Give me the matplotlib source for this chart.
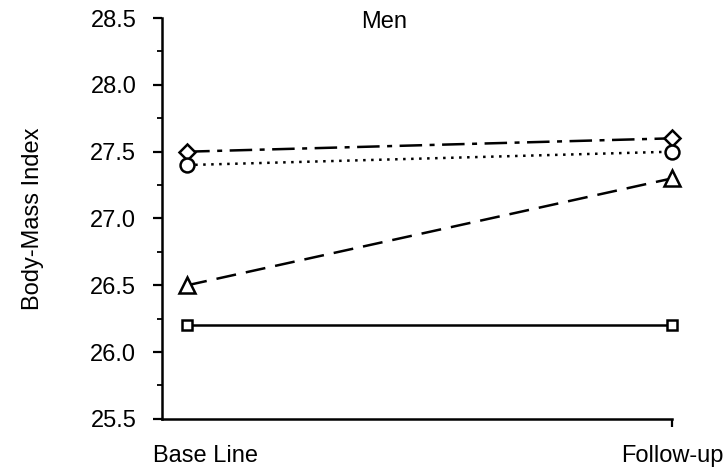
import matplotlib.pyplot as plt
from matplotlib.ticker import MultipleLocator

plt.rcParams['font.family'] = ['Liberation Sans', 'DejaVu Sans']

visits = ['Base Line', 'Follow-up']
diamond = [27.5, 27.6]
circle = [27.4, 27.5]
triangle = [26.5, 27.3]
square = [26.2, 26.2]

fig = plt.figure(figsize=(7.28, 4.76), dpi=100)
ax = fig.add_axes([0.2225, 0.12, 0.7005, 0.842])

x = [0, 1]
kw = dict(color='black', lw=1.8, mfc='white', mec='black', mew=1.8, clip_on=False)
ax.plot(x, diamond, marker='D', ms=8, dashes=(9, 3, 2, 3), **kw)
ax.plot(x, circle, marker='o', ms=10, dashes=(1, 2.2), **kw)
ax.plot(x, triangle, marker='^', ms=11, dashes=(8, 4), **kw)
ax.plot(x, square, marker='s', ms=7, linestyle='-', **kw)

ax.set_xlim(-0.052, 1.0)
ax.set_ylim(25.5, 28.5)
ax.yaxis.set_major_locator(MultipleLocator(0.5))
ax.yaxis.set_minor_locator(MultipleLocator(0.25))
ax.set_yticklabels([f'{v:.1f}' for v in ax.get_yticks()])
ax.tick_params(axis='y', which='major', length=6.5, width=1.6, labelsize=17, pad=12)
ax.tick_params(axis='y', which='minor', length=3.6, width=1.3)

ax.set_xticks([1])
ax.set_xticklabels([''])
ax.tick_params(axis='x', length=5.5, width=1.6, direction='out')
ax.text(0.085, -0.065, visits[0], transform=ax.transAxes, ha='center', va='top', fontsize=17)
ax.text(1.0, -0.065, visits[1], transform=ax.transAxes, ha='center', va='top', fontsize=17)

for s in ['top', 'right']:
    ax.spines[s].set_visible(False)
for s in ['left', 'bottom']:
    ax.spines[s].set_linewidth(1.8)

ax.set_ylabel('Body-Mass Index', fontsize=17)
ax.yaxis.set_label_coords(-0.232, 0.5)
ax.text(0.436, 0.975, 'Men', transform=ax.transAxes, ha='center', va='baseline', fontsize=17)

fig.savefig('out.png', dpi=100)
